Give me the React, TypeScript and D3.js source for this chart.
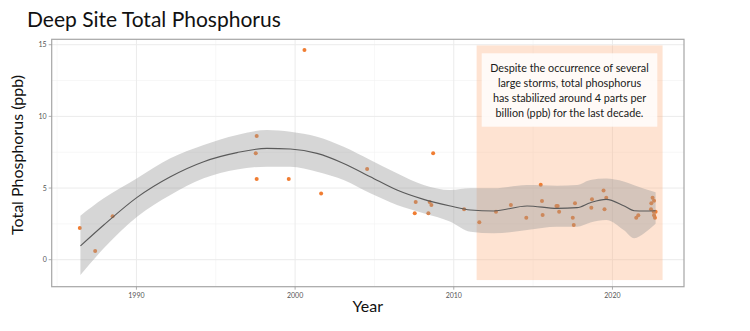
import React from "react";
import * as d3 from "d3";

// ---- data ----
const pointYears = [
  1986.43, 1987.4, 1988.5, 1997.58, 1997.52, 1997.58, 1999.6, 2000.59, 2001.64, 2004.54,
  2007.6, 2007.54, 2008.48, 2008.59, 2008.4, 2008.7, 2010.65, 2011.61, 2012.66, 2013.6,
  2014.57, 2015.48, 2015.56, 2015.6, 2016.47, 2016.55, 2016.64, 2017.5, 2017.56, 2017.64,
  2018.67, 2018.71, 2019.44, 2019.61, 2019.5, 2021.5, 2021.63, 2022.53, 2022.62, 2022.45,
  2022.43, 2022.6, 2022.72, 2022.62, 2022.68,
];
const pointValues = [
  2.21, 0.61, 3.03, 8.63, 7.42, 5.63, 5.63, 14.63, 4.61, 6.33,
  4.03, 3.24, 4.03, 3.82, 3.24, 7.42, 3.52, 2.62, 3.34, 3.82,
  2.93, 5.23, 4.1, 3.12, 3.75, 3.75, 3.35, 2.93, 2.42, 3.93,
  3.63, 4.21, 4.82, 4.33, 3.52, 2.93, 3.1, 4.33, 4.12, 3.93,
  3.52, 3.35, 3.35, 3.1, 2.93,
];

const smoothYears = [
  1986.47, 1987.94, 1990.04, 1992.14, 1994.24, 1996.34, 1998.23, 1999.7, 2001.38, 2003.06,
  2004.74, 2006.42, 2008.1, 2009.79, 2011.05, 2012.51, 2014.62, 2016.51, 2017.77, 2018.61,
  2019.6, 2020.71, 2021.37, 2022.0, 2022.72,
];
const smoothFit = [
  0.96, 2.42, 4.35, 5.79, 6.84, 7.47, 7.77, 7.72, 7.42, 6.72,
  5.79, 4.86, 4.21, 3.75, 3.47, 3.4, 3.75, 3.58, 3.63, 3.98,
  4.21, 3.77, 3.42, 3.4, 3.42,
];
const smoothHi = [
  3.07, 4.28, 5.68, 7.07, 8.0, 8.7, 9.05, 8.93, 8.58, 7.88,
  6.96, 6.03, 5.21, 4.86, 4.98, 4.98, 5.21, 5.16, 5.21, 5.56,
  5.66, 5.45, 5.2, 4.95, 4.7,
];
const smoothLo = [
  -1.07, 0.79, 3.0, 4.51, 5.68, 6.3, 6.49, 6.49, 6.14, 5.56,
  4.63, 3.82, 3.24, 2.65, 1.95, 1.84, 2.07, 2.3, 2.3, 2.6,
  2.77, 2.07, 1.5, 1.85, 2.5,
];

const xTicks = [1990, 2000, 2010, 2020];
const xMinor = [1985, 1995, 2005, 2015];
const yTicks = [0, 5, 10, 15];
const yMinor = [2.5, 7.5, 12.5];

const highlight = { x0: 2011.44, x1: 2023.16, y0: -1.42, y1: 14.95 };
const noteLines = [
  "Despite the occurrence of several",
  "large storms, total phosphorus",
  "has stabilized around 4 parts per",
  "billion (ppb) for the last decade.",
];

const title = "Deep Site Total Phosphorus";
const xTitle = "Year";
const yTitle = "Total Phosphorus  (ppb)";

// ---- layout ----
const W = 750;
const H = 331;
const P = { left: 51.7, right: 684, top: 39.3, bottom: 286.7 };
const FONT = "Lato, 'Open Sans', sans-serif";

export default function App() {
  const x = d3.scaleLinear().domain([1984.66, 2024.51]).range([P.left, P.right]);
  const y = d3.scaleLinear().domain([-1.884, 15.377]).range([P.bottom, P.top]);

  const idx = d3.range(smoothYears.length);
  const band = d3
    .area<number>()
    .x((i) => x(smoothYears[i]))
    .y0((i) => y(smoothLo[i]))
    .y1((i) => y(smoothHi[i]))
    .curve(d3.curveMonotoneX);
  const line = d3
    .line<number>()
    .x((i) => x(smoothYears[i]))
    .y((i) => y(smoothFit[i]))
    .curve(d3.curveMonotoneX);

  const boxX0 = 481.7;
  const boxX1 = 657.3;
  const boxY0 = 53.3;
  const boxY1 = 126.7;
  const boxCx = (boxX0 + boxX1) / 2;

  return (
    <svg
      width={W}
      height={H}
      style={{ position: "absolute", left: 0, top: 0, background: "#ffffff" }}
      fontFamily={FONT}
    >
      <rect x={0} y={0} width={W} height={H} fill="#ffffff" />
      {/* panel */}
      <rect x={P.left} y={P.top} width={P.right - P.left} height={P.bottom - P.top} fill="#ffffff" />
      {/* minor grid */}
      {xMinor.map((t) => (
        <line key={"xm" + t} x1={x(t)} x2={x(t)} y1={P.top} y2={P.bottom} stroke="#f2f2f2" strokeWidth={0.6} />
      ))}
      {yMinor.map((t) => (
        <line key={"ym" + t} x1={P.left} x2={P.right} y1={y(t)} y2={y(t)} stroke="#f2f2f2" strokeWidth={0.6} />
      ))}
      {/* major grid */}
      {xTicks.map((t) => (
        <line key={"xg" + t} x1={x(t)} x2={x(t)} y1={P.top} y2={P.bottom} stroke="#ebebeb" strokeWidth={1} />
      ))}
      {yTicks.map((t) => (
        <line key={"yg" + t} x1={P.left} x2={P.right} y1={y(t)} y2={y(t)} stroke="#ebebeb" strokeWidth={1} />
      ))}

      {/* highlight rectangle */}
      <rect
        x={x(highlight.x0)}
        y={y(highlight.y1)}
        width={x(highlight.x1) - x(highlight.x0)}
        height={y(highlight.y0) - y(highlight.y1)}
        fill="#fcb68a"
        fillOpacity={0.38}
      />

      {/* points */}
      {pointYears.map((yr, i) => (
        <circle key={"p" + i} cx={x(yr)} cy={y(pointValues[i])} r={2} fill="#f07d32" />
      ))}

      {/* smooth band + line */}
      <path d={band(idx) || ""} fill="#999999" fillOpacity={0.4} />
      <path d={line(idx) || ""} fill="none" stroke="#5a5a5a" strokeWidth={1.1} />

      {/* annotation */}
      <rect x={boxX0} y={boxY0} width={boxX1 - boxX0} height={boxY1 - boxY0} fill="#ffffff" fillOpacity={0.82} />
      {noteLines.map((s, i) => (
        <text key={"n" + i} x={boxCx} y={71.5 + i * 15} textAnchor="middle" fontSize={10.8} fill="#1a1a1a">
          {s}
        </text>
      ))}

      {/* panel border */}
      <rect
        x={P.left}
        y={P.top}
        width={P.right - P.left}
        height={P.bottom - P.top}
        fill="none"
        stroke="#a6a6a6"
        strokeWidth={1.2}
      />

      {/* axes ticks and labels */}
      {xTicks.map((t) => (
        <g key={"xt" + t}>
          <line x1={x(t)} x2={x(t)} y1={P.bottom} y2={P.bottom + 3} stroke="#999999" strokeWidth={0.8} />
          <text x={x(t)} y={P.bottom + 11} textAnchor="middle" fontSize={7} fill="#555555">
            {t}
          </text>
        </g>
      ))}
      {yTicks.map((t) => (
        <g key={"yt" + t}>
          <line x1={P.left - 3} x2={P.left} y1={y(t)} y2={y(t)} stroke="#999999" strokeWidth={0.8} />
          <text x={P.left - 5} y={y(t) + 2.5} textAnchor="end" fontSize={7} fill="#555555">
            {t}
          </text>
        </g>
      ))}

      {/* titles */}
      <text x={27} y={27.3} fontSize={21} fill="#111111">
        {title}
      </text>
      <text x={(P.left + P.right) / 2} y={312} textAnchor="middle" fontSize={16} fill="#111111">
        {xTitle}
      </text>
      <text
        transform={`translate(22.5, 155) rotate(-90)`}
        textAnchor="middle"
        fontSize={16}
        fill="#111111"
      >
        {yTitle}
      </text>
    </svg>
  );
}
